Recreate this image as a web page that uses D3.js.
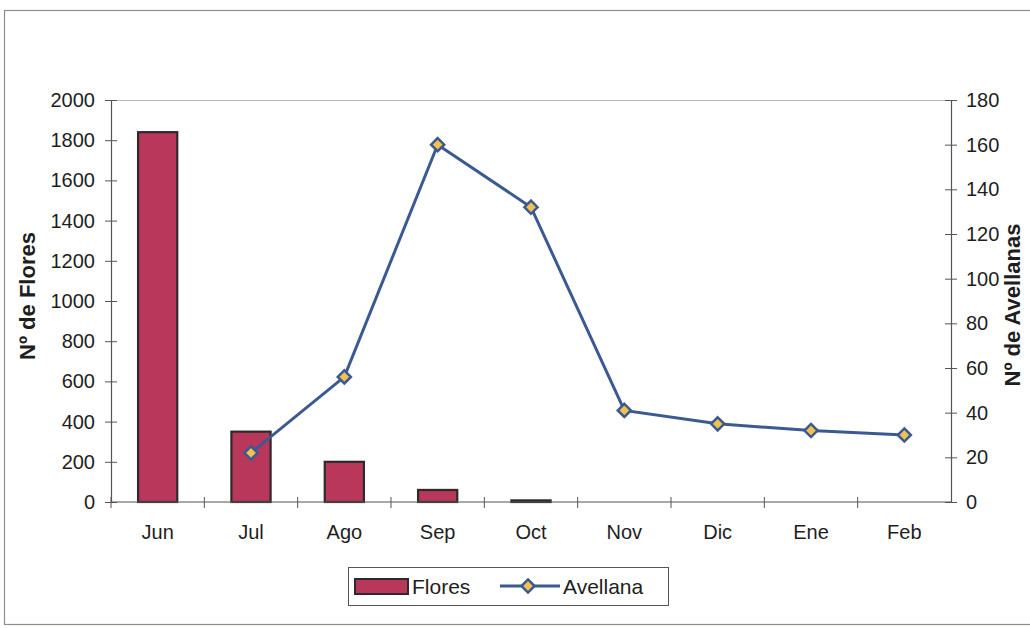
<!DOCTYPE html>
<html>
<head>
<meta charset="utf-8">
<script src="https://cdn.jsdelivr.net/npm/d3@7"></script>
<style>
  body { margin: 0; background: #fff; }
  svg { font-family: "Liberation Sans", Arial, sans-serif; }
</style>
</head>
<body>
<svg id="chart" width="1030" height="628"></svg>
<script>
var months = ["Jun", "Jul", "Ago", "Sep", "Oct", "Nov", "Dic", "Ene", "Feb"];
var flores = [1840, 350, 200, 60, 8, 0, 0, 0, 0];
var avellanaMonths = ["Jul", "Ago", "Sep", "Oct", "Nov", "Dic", "Ene", "Feb"];
var avellana = [22, 56, 160, 132, 41, 35, 32, 30];
var leftTicks = [0, 200, 400, 600, 800, 1000, 1200, 1400, 1600, 1800, 2000];
var rightTicks = [0, 20, 40, 60, 80, 100, 120, 140, 160, 180];

var svg = d3.select("#chart");
var plot = { left: 111, right: 951, top: 100, bottom: 502 };

// outer frame
svg.append("rect").attr("x", 4.5).attr("y", 10.5).attr("width", 1030).attr("height", 614)
  .attr("fill", "none").attr("stroke", "#8a8f96").attr("stroke-width", 1.2);

var x = d3.scaleBand().domain(months).range([plot.left, plot.right]);
var yL = d3.scaleLinear().domain([0, 2000]).range([plot.bottom, plot.top]);
var yR = d3.scaleLinear().domain([0, 180]).range([plot.bottom, plot.top]);

// plot top line
svg.append("line").attr("x1", plot.left).attr("x2", plot.right)
  .attr("y1", plot.top + 0.5).attr("y2", plot.top + 0.5)
  .attr("stroke", "#b8bcc2").attr("stroke-width", 1);

// bars
var bw = x.bandwidth() * 0.42;
svg.append("g").selectAll("rect").data(months).join("rect")
  .attr("x", function(d) { return x(d) + (x.bandwidth() - bw) / 2; })
  .attr("y", function(d, i) { return yL(flores[i]); })
  .attr("width", bw)
  .attr("height", function(d, i) { return yL(0) - yL(flores[i]); })
  .attr("fill", "#b9375a")
  .attr("stroke", "#2e2a2c")
  .attr("stroke-width", function(d, i) { return flores[i] > 0 ? 2.2 : 0; });

// left axis
var gL = svg.append("g").attr("transform", "translate(" + plot.left + ",0)")
  .call(d3.axisLeft(yL).tickValues(leftTicks).tickFormat(d3.format("d")).tickSize(6).tickPadding(10));
gL.selectAll(".tick line").attr("x2", 6).attr("x1", -6);

// right axis
var gR = svg.append("g").attr("transform", "translate(" + plot.right + ",0)")
  .call(d3.axisRight(yR).tickValues(rightTicks).tickFormat(d3.format("d")).tickSize(6).tickPadding(9));
gR.selectAll(".tick line").attr("x1", -6).attr("x2", 6);

// bottom axis with ticks between categories
var gB = svg.append("g").attr("transform", "translate(0," + plot.bottom + ")")
  .call(d3.axisBottom(x).tickSize(0).tickPadding(23));
gB.selectAll(".tick")
  .each(function(d) {
    d3.select(this).append("line")
      .attr("x1", -x.step() / 2).attr("x2", -x.step() / 2)
      .attr("y1", -5).attr("y2", 6)
      .attr("stroke", "#444");
  });

[gL, gR, gB].forEach(function(g) {
  g.attr("font-size", 20).attr("font-family", "Liberation Sans, Arial, sans-serif");
  g.select(".domain").attr("stroke", "#555").attr("stroke-width", 1.2);
  g.selectAll(".tick line").attr("stroke", "#555");
  g.selectAll("text").attr("fill", "#1e1e1e");
});
gB.select(".domain").attr("d", "M" + plot.left + ",0H" + plot.right);

// axis titles
svg.append("text").attr("transform", "translate(35,296) rotate(-90)")
  .attr("text-anchor", "middle").attr("font-size", 22).attr("font-weight", "bold")
  .attr("fill", "#1e1e1e").text("Nº de Flores");
svg.append("text").attr("transform", "translate(1020,305) rotate(-90)")
  .attr("text-anchor", "middle").attr("font-size", 22).attr("font-weight", "bold")
  .attr("fill", "#1e1e1e").text("Nº de Avellanas");

// line
var line = d3.line()
  .x(function(d, i) { return x(avellanaMonths[i]) + x.bandwidth() / 2; })
  .y(function(d) { return yR(d); });
svg.append("path").datum(avellana).attr("d", line)
  .attr("fill", "none").attr("stroke", "#3b5a92").attr("stroke-width", 3);

var diamond = d3.symbol().type(d3.symbolDiamond2).size(110);
svg.append("g").selectAll("path").data(avellana).join("path")
  .attr("d", diamond)
  .attr("transform", function(d, i) {
    return "translate(" + (x(avellanaMonths[i]) + x.bandwidth() / 2) + "," + yR(d) + ")";
  })
  .attr("fill", "#f2c14e").attr("stroke", "#3b5a92").attr("stroke-width", 2.5);

// legend
var lg = svg.append("g");
lg.append("rect").attr("x", 348.5).attr("y", 567.5).attr("width", 320).attr("height", 38)
  .attr("fill", "#fff").attr("stroke", "#555").attr("stroke-width", 1);
lg.append("rect").attr("x", 355).attr("y", 579).attr("width", 53).attr("height", 15)
  .attr("fill", "#b9375a").attr("stroke", "#2e2a2c").attr("stroke-width", 2);
lg.append("text").attr("x", 412).attr("y", 594).attr("font-size", 21).attr("fill", "#1e1e1e").text("Flores");
lg.append("line").attr("x1", 500).attr("x2", 560).attr("y1", 586).attr("y2", 586)
  .attr("stroke", "#3b5a92").attr("stroke-width", 3);
lg.append("path").attr("d", diamond).attr("transform", "translate(528,586)")
  .attr("fill", "#f2c14e").attr("stroke", "#3b5a92").attr("stroke-width", 2.5);
lg.append("text").attr("x", 563).attr("y", 594).attr("font-size", 21).attr("fill", "#1e1e1e").text("Avellana");
</script>
</body>
</html>
